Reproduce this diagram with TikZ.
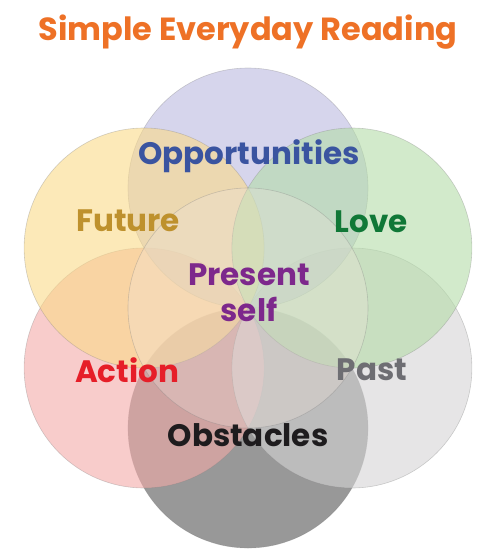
\documentclass[tikz,border=0pt]{standalone}
\usepackage{fontspec}
\setmainfont{Poppins}
\definecolor{oppfill}{RGB}{187,185,223}
\definecolor{futfill}{RGB}{250,218,137}
\definecolor{lovefill}{RGB}{180,220,168}
\definecolor{actfill}{RGB}{243,170,168}
\definecolor{pastfill}{RGB}{213,212,213}
\definecolor{obstfill}{RGB}{83,83,83}
\definecolor{selffill}{RGB}{240,228,220}
\definecolor{titleorange}{RGB}{238,113,38}
\definecolor{oppblue}{RGB}{58,84,160}
\definecolor{futgold}{RGB}{190,145,45}
\definecolor{lovegreen}{RGB}{16,120,55}
\definecolor{selfpurple}{RGB}{125,40,140}
\definecolor{actred}{RGB}{230,30,40}
\definecolor{pastgray}{RGB}{110,110,115}
\definecolor{obstblack}{RGB}{30,28,30}
\begin{document}
\begin{tikzpicture}[x=1pt,y=-1pt,
	petal/.style={circle,minimum size=240pt,inner sep=0pt,outer sep=0pt,
	draw=gray,draw opacity=0.35,line width=0.6pt,fill opacity=0.6},
	word/.style={anchor=base,inner sep=0pt,font=\fontsize{31}{36}\selectfont\bfseries}]
	\useasboundingbox (0,0) rectangle (500,550);
	\node(title) [word,text=titleorange,font=\fontsize{32}{36}\selectfont\bfseries] at (248,40) {Simple Everyday Reading};
	% petals, bottom one first
	\node(obst) [petal,fill=obstfill] at (248,428) {};
	\node(act) [petal,fill=actfill] at (144.1,368) {};
	\node(past) [petal,fill=pastfill] at (351.9,368) {};
	\node(opp) [petal,fill=oppfill] at (248,188) {};
	\node(fut) [petal,fill=futfill] at (144.1,248) {};
	\node(love) [petal,fill=lovefill] at (351.9,248) {};
	\node(self) [petal,fill=selffill,fill opacity=0.3] at (248,308) {};
	% labels
	\node(oppl) [word,text=oppblue] at (249,164) {Opportunities};
	\node(futl) [word,text=futgold] at (128,231) {Future};
	\node(lovel) [word,text=lovegreen] at (371,232) {Love};
	\node(selfl) [word,text=selfpurple,anchor=center,align=center] at (249,293) {Present\\self};
	\node(actl) [word,text=actred] at (127,382) {Action};
	\node(pastl) [word,text=pastgray] at (372,380) {Past};
	\node(obstl) [word,text=obstblack] at (248,446) {Obstacles};
\end{tikzpicture}
\end{document}
